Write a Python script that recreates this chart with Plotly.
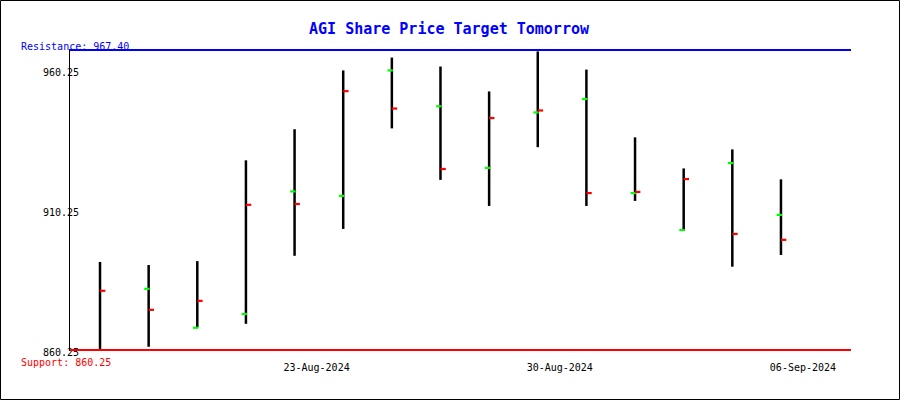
import plotly.graph_objects as go

# ---- data ----
dates = ["19-Aug-2024", "20-Aug-2024", "21-Aug-2024", "22-Aug-2024", "23-Aug-2024",
         "26-Aug-2024", "27-Aug-2024", "28-Aug-2024", "29-Aug-2024", "30-Aug-2024",
         "02-Sep-2024", "03-Sep-2024", "04-Sep-2024", "05-Sep-2024", "06-Sep-2024"]
high_vals = [891.7, 890.6, 892.0, 928.0, 939.1, 960.1, 964.7, 961.5, 952.6, 966.9,
             960.4, 936.2, 925.1, 931.9, 921.2]
low_vals = [860.4, 861.4, 868.3, 869.6, 893.9, 903.5, 939.4, 921.0, 911.7, 932.7,
            911.7, 913.5, 902.9, 890.0, 894.2]
open_vals = [860.25, 882.1, 868.2, 873.1, 916.9, 915.3, 960.1, 947.3, 925.3, 945.1,
             949.9, 916.3, 903.1, 927.0, 908.5]
close_vals = [881.4, 874.6, 877.8, 912.1, 912.4, 952.7, 946.5, 924.9, 943.1, 945.8,
              916.3, 916.7, 921.3, 901.7, 899.6]
resistance = 967.40
support = 860.25
ytick_vals = [860.25, 910.25, 960.25]
xtick_labels = ["23-Aug-2024", "30-Aug-2024", "06-Sep-2024"]

idx = list(range(len(dates)))
xtick_vals = [dates.index(d) for d in xtick_labels]

# high-low segments
seg_x, seg_y = [], []
for i, h, l in zip(idx, high_vals, low_vals):
    seg_x += [i, i, None]
    seg_y += [l, h, None]

# open ticks (left) and close ticks (right)
ox, oy, cx, cy = [], [], [], []
for i, o, c in zip(idx, open_vals, close_vals):
    ox += [i - 0.09, i + 0.02, None]
    oy += [o, o, None]
    cx += [i, i + 0.11, None]
    cy += [c, c, None]

fig = go.Figure()
fig.add_trace(go.Scatter(x=seg_x, y=seg_y, mode="lines",
                         line=dict(color="black", width=2.5), hoverinfo="skip"))
fig.add_trace(go.Scatter(x=ox, y=oy, mode="lines",
                         line=dict(color="#00FF00", width=2.2), hoverinfo="skip"))
fig.add_trace(go.Scatter(x=cx, y=cy, mode="lines",
                         line=dict(color="#FF0000", width=2.2), hoverinfo="skip"))

mono = "DejaVu Sans Mono"

fig.add_shape(type="line", xref="paper", x0=0, x1=1, yref="y", y0=resistance, y1=resistance,
              line=dict(color="#0000FF", width=2))
fig.add_shape(type="line", xref="paper", x0=0, x1=1, yref="y", y0=support, y1=support,
              line=dict(color="#FF0000", width=2))

# plot area geometry (pixels)
ml, mr, mt, mb = 70, 49, 49, 49
pw, ph = 900 - ml - mr, 400 - mt - mb
bottom_px = 400 - mb
pad = 1.0 * (resistance - support) / 300  # one pixel in value units

# outer image border
fig.add_shape(type="rect", xref="paper", yref="paper",
              x0=(0.5 - ml) / pw, x1=(899.5 - ml) / pw,
              y0=(bottom_px - 399.5) / ph, y1=(bottom_px - 0.5) / ph,
              line=dict(color="black", width=1), fillcolor="rgba(0,0,0,0)")

fig.add_annotation(text=f"Resistance: {resistance:.2f}", xref="paper", x=(19 - ml) / pw,
                   xanchor="left", yref="y", y=resistance, yanchor="middle", yshift=4,
                   showarrow=False, font=dict(family=mono, size=10, color="#0000FF"))
fig.add_annotation(text=f"Support: {support:.2f}", xref="paper", x=(19 - ml) / pw,
                   xanchor="left", yref="y", y=support, yanchor="middle", yshift=-12,
                   showarrow=False, font=dict(family=mono, size=10, color="#FF0000"))

fig.update_layout(
    width=900, height=400,
    margin=dict(l=ml, r=mr, t=mt, b=mb),
    paper_bgcolor="white", plot_bgcolor="white",
    showlegend=False,
    title=dict(text="<b>AGI Share Price Target Tomorrow</b>", x=449 / 900, xanchor="center",
               y=1 - 28.5 / 400, yanchor="middle",
               font=dict(family=mono, size=15, color="#0000FF")),
    xaxis=dict(range=[-0.617, 15.44], showgrid=False, zeroline=False, showline=False,
               tickmode="array", tickvals=xtick_vals, ticktext=xtick_labels,
               ticks="", ticklabelshift=22, ticklabelstandoff=9,
               tickfont=dict(family=mono, size=10, color="black")),
    yaxis=dict(range=[support - pad, resistance + pad], showgrid=False, zeroline=False,
               showline=True, linecolor="black", linewidth=1,
               tickmode="array", tickvals=ytick_vals,
               ticktext=[f"{v:.2f}" for v in ytick_vals],
               ticks="", ticklabelstandoff=-12, ticklabelshift=2,
               tickfont=dict(family=mono, size=10, color="black")),
)

fig.write_html("out.html")
